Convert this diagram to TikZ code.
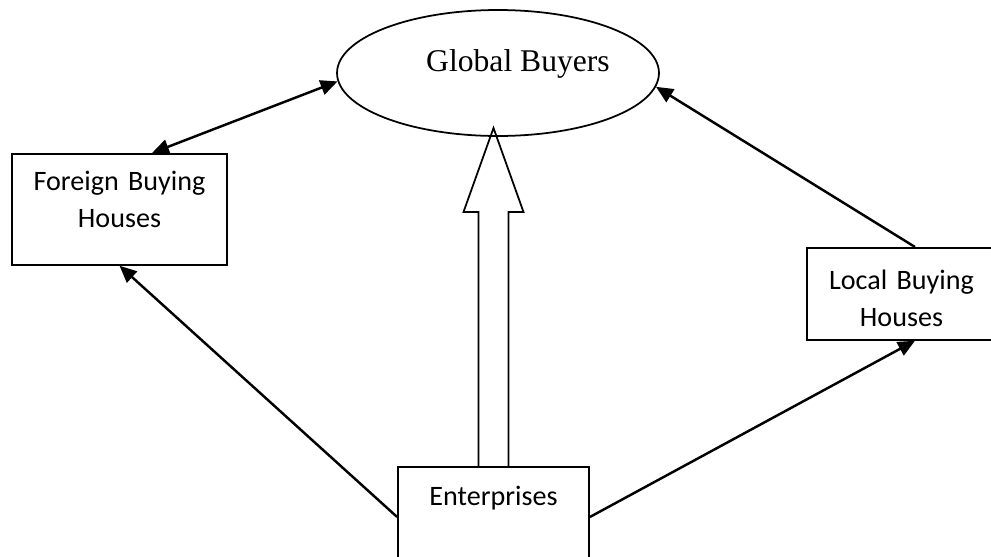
\documentclass[tikz,border=0pt]{standalone}
\usepackage{fontspec}
\setmainfont{Carlito}
\newfontfamily\serifface{Liberation Serif}
\usetikzlibrary{positioning}
\usetikzlibrary{arrows.meta}
\usetikzlibrary{shapes.geometric,calc}

\tikzset{
  house/.style={draw, line width=1pt, inner sep=0pt, anchor=north, align=center,
    font=\fontsize{16}{20.7}\selectfont},
  link/.style={line width=1.4pt, ->},
  >={Triangle[length=0.34cm,width=0.3cm]},
}

\begin{document}
\begin{tikzpicture}[x=0.02cm,y=0.02cm]
\useasboundingbox (0,0) rectangle (991,556);
\clip (0,0) rectangle (991,556);

 % Buyers ellipse
 \node[ellipse, draw, line width=1pt, inner sep=0pt,
    minimum width=6.44cm, minimum height=2.52cm,
    label={[xshift=0.4cm, yshift=0.18cm, font=\serifface\fontsize{18}{20}\selectfont]center:Global Buyers}
 ] (buyers) at (498,483) {};

 % Buying houses and enterprises
 \node[house, text width=4.3cm, text height=0.74cm, text depth=1.48cm] (foreign) at (119.5,403) {Foreign Buying\\Houses};
 \node[house, text width=3.78cm, text height=0.84cm, text depth=1.0cm] (local) at (901.5,309) {Local Buying\\Houses};
 \node[house, text width=3.82cm, text height=0.78cm, text depth=1.4cm] (ent) at (493.5,90) {Enterprises};

 % Hollow arrow up to the buyers
 \draw[line width=1pt, line join=miter] ($(ent.north)+(-15,0)$) -- ++(0,254) -- ++(-15,0)
    -- ($(ent.north)+(0,338)$) -- ++(30,-84) -- ++(-15,0) -- ($(ent.north)+(15,0)$);

 \draw[link, <->] ($(foreign.north)+(32.5,0)$) -- (buyers.183);
 \draw[link] ($(local.north)+(13.5,0)$) -- (buyers.-5.5);
 \draw[link] ($(ent.north west)+(0,-51)$) -- (foreign.south);
 \draw[link] ($(ent.north east)+(0,-51)$) -- ($(local.south)+(13.5,0)$);
\end{tikzpicture}
\end{document}
